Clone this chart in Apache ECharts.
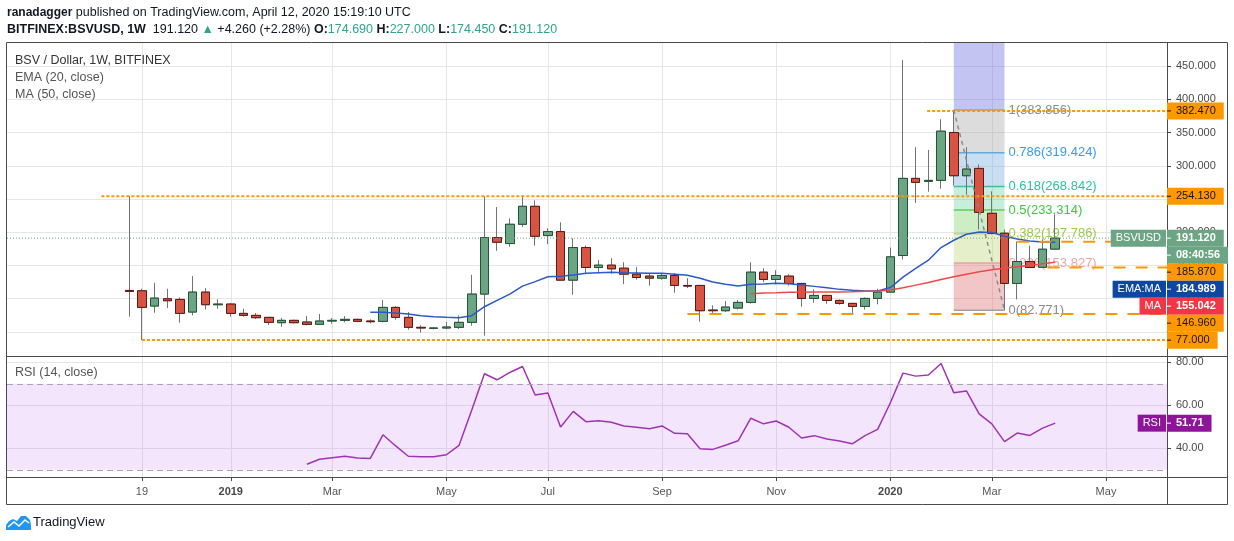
<!DOCTYPE html>
<html><head><meta charset="utf-8">
<script src="https://cdn.jsdelivr.net/npm/echarts@6/dist/echarts.min.js"></script>
<style>html,body{margin:0;padding:0;background:#fff}#c{width:1234px;height:541px}</style>
</head><body><div id="c"></div>
<script>
// ---------------- DATA (weekly bars, index 0 = week of 12 Nov 2018) ----------------
const opens  = [112.5,112,89,100,99,80,110,91,92,78,75,72,64,67.5,65,61.5,66.5,67.5,69,66.5,66,87,72,57,55.5,56,57,64.5,107,192,183,212,239,195,201,128,177,147,150.5,146,137,134,131,135,120,120,83,82,86,94.5,140,129,134,123,100.5,105,97.5,93,88.5,100.5,110,165,281,276.5,278,350,285,296,228.5,198.5,123,156,147.3,174.69];
const highs  = [254.13,115,124,115,102,134,116,99,93.5,85,78.5,72.5,71,68.5,74,77,71,74,70,69,98,89,80,60,57,65,75,136,254,238,221,256,248,206,215,191,180,158,161,155,148,138,138.3,138.7,131,121,90,96.5,98,155,146,143,137,124,114,106,99,94,102,115,177,459,328,323.7,370,383.856,328,302,261.5,204,186,180,189.4,227];
const lows   = [73,38,79,86,64,75,84,85,73,73,69.5,60.5,58,63,60,60.5,62.5,64.5,65,63,64.5,68.5,53.5,49,54,54,54.5,59.5,44.5,172,178,208,180,182,127,106,137,138,137.5,122,128.7,119.6,128.7,109,116,65.5,78.6,80,84,92.5,125,121.7,119.6,88,94,92.5,91,77,83.6,91.6,109,159,244,261,265.5,270,256.5,204,197,82.771,99,146.5,146,174.45];
const closes = [111,87,101,97,78,110,91,92,78,75,71.5,64.5,67.5,64,61.5,66.5,67.5,69,66,65.5,87,72,57,56,56,57.5,64.5,107,192,185,212,239,194,201,128,177,147,150.5,145,137,132,131,135,120,119,82,82,87.5,94.5,140,129,135,123,100.5,105,97.5,93,88.5,100.5,110,163,281,275,278,352,285,295,230,198.5,123,156,147,174.5,191.12];
const ema20 = [null,null,null,null,null,null,null,null,null,null,null,null,null,null,null,null,null,null,null,
  79.6,79.6,78.6,77,74.5,73,72,71.5,74.5,88,97.5,107,119,125.7,133,134,135.7,138.3,139.2,139.8,139,138.7,138.3,138.3,136.8,135.3,130.8,125.2,121.7,119.2,121.7,122.2,123.2,122.6,120.6,118.6,116.6,114.1,112.6,111.6,111.6,116.8,132.5,145.5,158,177,188,197,200.3,199.8,194,190,187,185.3,184.989];
const ma50 = [null,null,null,null,null,null,null,null,null,null,null,null,null,null,null,null,null,null,null,null,null,null,null,null,null,null,null,null,null,null,null,null,null,null,null,null,null,null,null,null,null,null,null,null,null,null,null,null,null,
  107.6,108.6,109.1,109.7,109.7,110.2,110.2,110.2,110.6,111.2,111.2,113,116.5,120.5,124.5,129,133,137,140.5,143.5,146,148,150.5,152.8,155.042];
const rsi14 = [null,null,null,null,null,null,null,null,null,null,null,null,null,null,
  32.6,34.9,35.6,36.3,35.5,35.3,46.3,41.1,36.3,36.1,36.1,37.0,41.4,57.8,74.7,71.9,75.3,78.1,64.8,65.7,49.9,57.2,52.4,52.8,52.1,50.4,49.8,49.1,50.4,47.0,46.8,39.8,39.5,41.4,43.5,54.0,51.4,52.7,49.8,44.8,45.9,44.3,43.4,42.1,45.9,48.8,61.2,75.0,73.6,74.1,79.5,65.9,66.7,56.0,51.4,43.1,47.1,46.0,49.4,51.71];

const monthTickIdx    = [1, 8, 16, 25, 33, 42, 51, 60, 68, 77];
const monthTickLabels = ['19', '2019', 'Mar', 'May', 'Jul', 'Sep', 'Nov', '2020', 'Mar', 'May'];
const priceTicks = [50, 100, 150, 200, 250, 300, 350, 400, 450];
const rsiTicks = [40, 60, 80];

// horizontal drawn levels (price, first bar index of the drawing, style)
const hLevels     = [382.47, 254.13, 185.87, 146.96, 77.0, 38.0];
const hLevelStart = [62.9, -2.2, 70, 72.4, 44, 1];
const hLevelDash  = ['dot', 'dot', 'dash', 'dash', 'dash', 'dot'];

// Fibonacci retracement drawing
const fibAnchorIdx  = [65, 69];
const fibLevelText  = ['0', '0.236', '0.382', '0.5', '0.618', '0.786', '1', '1.618'];
const fibPrices     = [82.771, 153.827, 197.786, 233.314, 268.842, 319.424, 383.856, 569.93];

const lastPrice = 191.12;
const countdown = '08:40:56';

// ---------------- STYLE ----------------
const FONT = "'Liberation Sans', Arial, sans-serif";
const X_MIN = -9.64, X_MAX = 81.81;
const Y_MIN = 13.9, Y_MAX = 484.6;
const R_MIN = 26.65, R_MAX = 82.5;
const ORANGE = '#ff9800';
const fibFill = ['rgba(218,92,92,0.35)','rgba(181,212,106,0.35)','rgba(112,204,89,0.35)','rgba(89,206,155,0.35)','rgba(98,164,218,0.35)','rgba(155,155,155,0.35)','rgba(86,86,218,0.35)'];
const fibLine = ['#a0a0a0','#e8a0a0','#c8cf8c','#5ccc5c','#3cc0a0','#64a8dc','#a0a0a0'];
const fibText = ['#8a8a8a','#f0a5a5','#9cc94a','#43c443','#2fc0a0','#3d9be9','#8a8a8a'];

const chart = echarts.init(document.getElementById('c'));

const idx = closes.map((_, i) => i);
const wickData = idx.map(i => [i, opens[i], closes[i], lows[i], highs[i]]);
const bodyData = idx.map(i => [i, opens[i], closes[i], Math.min(opens[i], closes[i]), Math.max(opens[i], closes[i])]);
const pairs = arr => arr.map((v, i) => [i, v]).filter(p => p[1] != null);

const series = [];

// Fibonacci bands / lines / labels
series.push({
  type: 'custom', xAxisIndex: 0, yAxisIndex: 0, z: 1, silent: true,
  data: fibPrices.map((p, k) => [fibAnchorIdx[0], p, k]),
  encode: { x: 0, y: 1 },
  renderItem: (params, api) => {
    const k = params.dataIndex;
    const p = fibPrices[k];
    const ch = [];
    const a = api.coord([fibAnchorIdx[0], Math.min(p, Y_MAX)]);
    const b = api.coord([fibAnchorIdx[1], Math.min(p, Y_MAX)]);
    if (k < fibPrices.length - 1) {
      const t = api.coord([fibAnchorIdx[0], Math.min(fibPrices[k + 1], Y_MAX)]);
      ch.push({ type: 'rect', shape: { x: a[0], y: t[1], width: b[0] - a[0], height: a[1] - t[1] }, style: { fill: fibFill[k] } });
    }
    if (p <= Y_MAX) {
      ch.push({ type: 'line', shape: { x1: a[0], y1: a[1], x2: b[0], y2: b[1] }, style: { stroke: fibLine[k], lineWidth: 1.5 } });
      ch.push({ type: 'text', x: b[0] + 4, y: a[1],
        style: { text: fibLevelText[k] + '(' + p.toFixed(3) + ')', fill: fibText[k], font: '13px ' + FONT,
                 align: 'left', verticalAlign: 'middle', textAlign: 'left', textVerticalAlign: 'middle' } });
    }
    return { type: 'group', children: ch };
  }
});

// candles: wicks, then bodies
series.push({
  type: 'candlestick', xAxisIndex: 0, yAxisIndex: 0, z: 2, barWidth: 9, silent: true,
  data: wickData, encode: { x: 0, y: [1, 2, 3, 4] },
  itemStyle: { color: '#737375', color0: '#737375', borderColor: '#737375', borderColor0: '#737375', borderWidth: 1 }
});
series.push({
  type: 'candlestick', xAxisIndex: 0, yAxisIndex: 0, z: 3, barWidth: 9, silent: true,
  data: bodyData, encode: { x: 0, y: [1, 2, 3, 4] },
  itemStyle: { color: '#6ba583', color0: '#d75442', borderColor: '#225437', borderColor0: '#5b1a13', borderWidth: 1 }
});

// EMA / MA
series.push({ type: 'line', xAxisIndex: 0, yAxisIndex: 0, z: 4, data: pairs(ema20), showSymbol: false, silent: true,
  lineStyle: { color: '#2a5ac8', width: 1.5 } });
series.push({ type: 'line', xAxisIndex: 0, yAxisIndex: 0, z: 4, data: pairs(ma50), showSymbol: false, silent: true,
  lineStyle: { color: '#f04848', width: 1.5 } });

// drawn horizontal levels
hLevels.forEach((v, k) => {
  series.push({ type: 'line', xAxisIndex: 0, yAxisIndex: 0, z: 5, silent: true, showSymbol: false,
    data: [[hLevelStart[k], v], [X_MAX, v]],
    lineStyle: { color: ORANGE, width: 2, type: hLevelDash[k] === 'dot' ? [3, 2] : [12, 10] } });
});

// fib trend line
series.push({ type: 'line', xAxisIndex: 0, yAxisIndex: 0, z: 5, silent: true, showSymbol: false,
  data: [[fibAnchorIdx[0], fibPrices[6]], [fibAnchorIdx[1], fibPrices[0]]],
  lineStyle: { color: '#8a8a8a', width: 1.5, type: [4, 4] } });

// last price line
series.push({ type: 'line', xAxisIndex: 0, yAxisIndex: 0, z: 5, silent: true, showSymbol: false,
  data: [[X_MIN, lastPrice], [X_MAX, lastPrice]],
  lineStyle: { color: '#6ba583', width: 1, type: [1, 2] } });

// RSI
series.push({ type: 'line', xAxisIndex: 1, yAxisIndex: 1, z: 4, data: pairs(rsi14), showSymbol: false, silent: true,
  lineStyle: { color: '#a033b5', width: 1.5 },
  markArea: { silent: true, itemStyle: { color: 'rgba(155,47,230,0.12)' }, data: [[{ yAxis: 30 }, { yAxis: 70 }]] },
  markLine: { silent: true, symbol: 'none', label: { show: false },
    lineStyle: { color: '#a9a3b3', type: [6, 4], width: 1 }, data: [{ yAxis: 30 }, { yAxis: 70 }] } });

const gridLine = { show: true, lineStyle: { color: '#e6e6e6', width: 1 } };
const xLabelFmt = v => {
  const k = monthTickIdx.indexOf(Math.round(v));
  if (k < 0) return '';
  const t = monthTickLabels[k];
  return /^\d{4}$/.test(t) ? '{b|' + t + '}' : t;
};

const option = {
  animation: false,
  backgroundColor: '#ffffff',
  grid: [
    { left: 7, right: 67, top: 43, height: 313 },
    { left: 7, right: 67, top: 357, height: 120 }
  ],
  xAxis: [
    { type: 'value', gridIndex: 0, min: X_MIN, max: X_MAX,
      axisLine: { show: false, onZero: false }, axisLabel: { show: false },
      axisTick: { show: false, customValues: monthTickIdx }, splitLine: gridLine },
    { type: 'value', gridIndex: 1, min: X_MIN, max: X_MAX, position: 'bottom',
      axisLine: { show: false, onZero: false },
      axisTick: { show: true, customValues: monthTickIdx, length: 4, lineStyle: { color: '#4a4a4a' } },
      axisLabel: { show: true, customValues: monthTickIdx, formatter: xLabelFmt, margin: 9,
        color: '#555', fontSize: 11, fontFamily: FONT,
        rich: { b: { fontWeight: 'bold', color: '#4a4a4a', fontSize: 11, fontFamily: FONT } } },
      splitLine: gridLine }
  ],
  yAxis: [
    { type: 'value', gridIndex: 0, position: 'right', min: Y_MIN, max: Y_MAX,
      axisLine: { show: false, onZero: false },
      axisTick: { show: true, customValues: priceTicks, length: 4, lineStyle: { color: '#4a4a4a' } },
      axisLabel: { customValues: priceTicks, formatter: v => v.toFixed(3), margin: 9, color: '#4a4a4a', fontSize: 11, fontFamily: FONT },
      splitLine: gridLine },
    { type: 'value', gridIndex: 1, position: 'right', min: R_MIN, max: R_MAX,
      axisLine: { show: false, onZero: false },
      axisTick: { show: true, customValues: rsiTicks, length: 4, lineStyle: { color: '#4a4a4a' } },
      axisLabel: { customValues: rsiTicks, formatter: v => v.toFixed(2), margin: 9, color: '#4a4a4a', fontSize: 11, fontFamily: FONT },
      splitLine: gridLine }
  ],
  series: series
};
chart.setOption(option);

// ---------------- overlay graphics (frame, texts, axis tags) ----------------
const mctx = document.createElement('canvas').getContext('2d');
const textW = (t, font) => { mctx.font = font; return mctx.measureText(t).width; };
const TAG_FONT = '11px ' + FONT;
const TAG_FONT_B = 'bold 11px ' + FONT;
const TAG_H = 17;

const g = [];
const pxMain = v => chart.convertToPixel({ xAxisIndex: 0, yAxisIndex: 0 }, [X_MAX, v]);
const pxRsi = v => chart.convertToPixel({ xAxisIndex: 1, yAxisIndex: 1 }, [X_MAX, v]);
const axisX = pxMain(Y_MAX)[0];
const paneTop = pxMain(Y_MAX)[1], paneBot = pxMain(Y_MIN)[1];
const rsiBot = pxRsi(R_MIN)[1];
const leftX = chart.convertToPixel({ xAxisIndex: 0, yAxisIndex: 0 }, [X_MIN, 0])[0];
const outerR = 1227, outerB = 504;

function addTag(y, text, bg, fg, side) {
  const bold = fg === '#ffffff';
  const font = bold ? TAG_FONT_B : TAG_FONT;
  const w = 9 + textW(text, font) + 8;
  g.push({ type: 'rect', z: 100, shape: { x: axisX, y: y - TAG_H / 2, width: w, height: TAG_H }, style: { fill: bg } });
  g.push({ type: 'line', z: 101, shape: { x1: axisX, y1: y, x2: axisX + 4, y2: y }, style: { stroke: fg, lineWidth: 1 } });
  g.push({ type: 'text', z: 101, x: axisX + 9, y: y, style: { text: text, fill: fg, font: font,
    align: 'left', verticalAlign: 'middle', textAlign: 'left', textVerticalAlign: 'middle' } });
  if (side) {
    const sw = textW(side, TAG_FONT) + 10;
    g.push({ type: 'rect', z: 100, shape: { x: axisX - 1 - sw, y: y - TAG_H / 2, width: sw, height: TAG_H }, style: { fill: bg } });
    g.push({ type: 'text', z: 101, x: axisX - 1 - sw / 2, y: y, style: { text: side, fill: fg, font: TAG_FONT,
      align: 'center', verticalAlign: 'middle', textAlign: 'center', textVerticalAlign: 'middle' } });
  }
}

const emaLast = ema20[ema20.length - 1], maLast = ma50[ma50.length - 1];
const tags = hLevels.map(v => ({ v: v, text: v.toFixed(3), bg: ORANGE, fg: '#131722' }));
tags.push({ v: lastPrice, text: lastPrice.toFixed(3), bg: '#6ba583', fg: '#ffffff', side: 'BSVUSD' });
tags.push({ v: lastPrice - 1e-6, text: countdown, bg: '#6ba583', fg: '#ffffff' });
tags.push({ v: emaLast, text: emaLast.toFixed(3), bg: '#0d47a1', fg: '#ffffff', side: 'EMA:MA' });
tags.push({ v: maLast, text: maLast.toFixed(3), bg: '#f23645', fg: '#ffffff', side: 'MA' });
tags.sort((a, b) => b.v - a.v);
let prevY = -1e9;
tags.forEach(t => {
  const y = Math.max(pxMain(t.v)[1], prevY + TAG_H);
  prevY = y;
  if (y + TAG_H / 2 <= paneBot + 1) addTag(y, t.text, t.bg, t.fg, t.side);
});
const rsiLast = rsi14[rsi14.length - 1];
addTag(pxRsi(rsiLast)[1], rsiLast.toFixed(2), '#8e1599', '#ffffff', 'RSI');

// frame
const frame = { stroke: '#4a4a4a', lineWidth: 1 };
g.push({ type: 'rect', z: 99, shape: { x: leftX - 0.5, y: paneTop - 0.5, width: outerR - leftX + 1, height: outerB - paneTop + 1 }, style: Object.assign({ fill: 'none' }, frame) });
g.push({ type: 'line', z: 99, shape: { x1: leftX, y1: Math.round(paneBot) + 0.5, x2: outerR, y2: Math.round(paneBot) + 0.5 }, style: frame });
g.push({ type: 'line', z: 99, shape: { x1: leftX, y1: Math.round(rsiBot) + 0.5, x2: outerR, y2: Math.round(rsiBot) + 0.5 }, style: frame });
g.push({ type: 'line', z: 99, shape: { x1: Math.round(axisX) + 0.5, y1: paneTop, x2: Math.round(axisX) + 0.5, y2: outerB }, style: frame });

// pane legends
const txt = (x, y, text, font, fill) => g.push({ type: 'text', z: 100, x: x, y: y, style: { text: text, font: font, fill: fill,
  align: 'left', verticalAlign: 'middle', textAlign: 'left', textVerticalAlign: 'middle' } });
txt(15, 61, 'BSV / Dollar, 1W, BITFINEX', '12.5px ' + FONT, '#333');
txt(15, 78, 'EMA (20, close)', '12.5px ' + FONT, '#555');
txt(15, 95, 'MA (50, close)', '12.5px ' + FONT, '#555');
txt(15, 373, 'RSI (14, close)', '12.5px ' + FONT, '#555');

// header
g.push({ type: 'text', z: 100, x: 7, y: 13, style: { text: '{b|ranadagger} published on TradingView.com, April 12, 2020 15:19:10 UTC',
  font: '12.5px ' + FONT, fill: '#131722', verticalAlign: 'middle', textVerticalAlign: 'middle',
  rich: { b: { fontWeight: 'bold', font: 'bold 12.5px ' + FONT, fill: '#131722' } } } });
g.push({ type: 'text', z: 100, x: 7, y: 30, style: {
  text: '{b|BITFINEX:BSVUSD, 1W}  191.120 {g|▲} +4.260 (+2.28%) {b|O:}{g|174.690} {b|H:}{g|227.000} {b|L:}{g|174.450} {b|C:}{g|191.120}',
  font: '12.5px ' + FONT, fill: '#131722', verticalAlign: 'middle', textVerticalAlign: 'middle',
  rich: { b: { font: 'bold 12.5px ' + FONT, fill: '#131722' }, g: { font: '12.5px ' + FONT, fill: '#2ea48f' } } } });

// TradingView logo
g.push({ type: 'polygon', z: 100, shape: { points: [[6,530],[6,525],[9,521],[13,519],[17,521],[21,516],[26,516],[30,520],[31,525],[31,530]] }, style: { fill: '#2196f3' } });
g.push({ type: 'polyline', z: 101, shape: { points: [[8,527],[14,522],[19,526],[25,520],[29,523]] }, style: { stroke: '#ffffff', lineWidth: 1.5, fill: 'none' } });
txt(33, 522, 'TradingView', '13px ' + FONT, '#131722');

chart.setOption({ graphic: { elements: g } });
</script>
</body></html>
